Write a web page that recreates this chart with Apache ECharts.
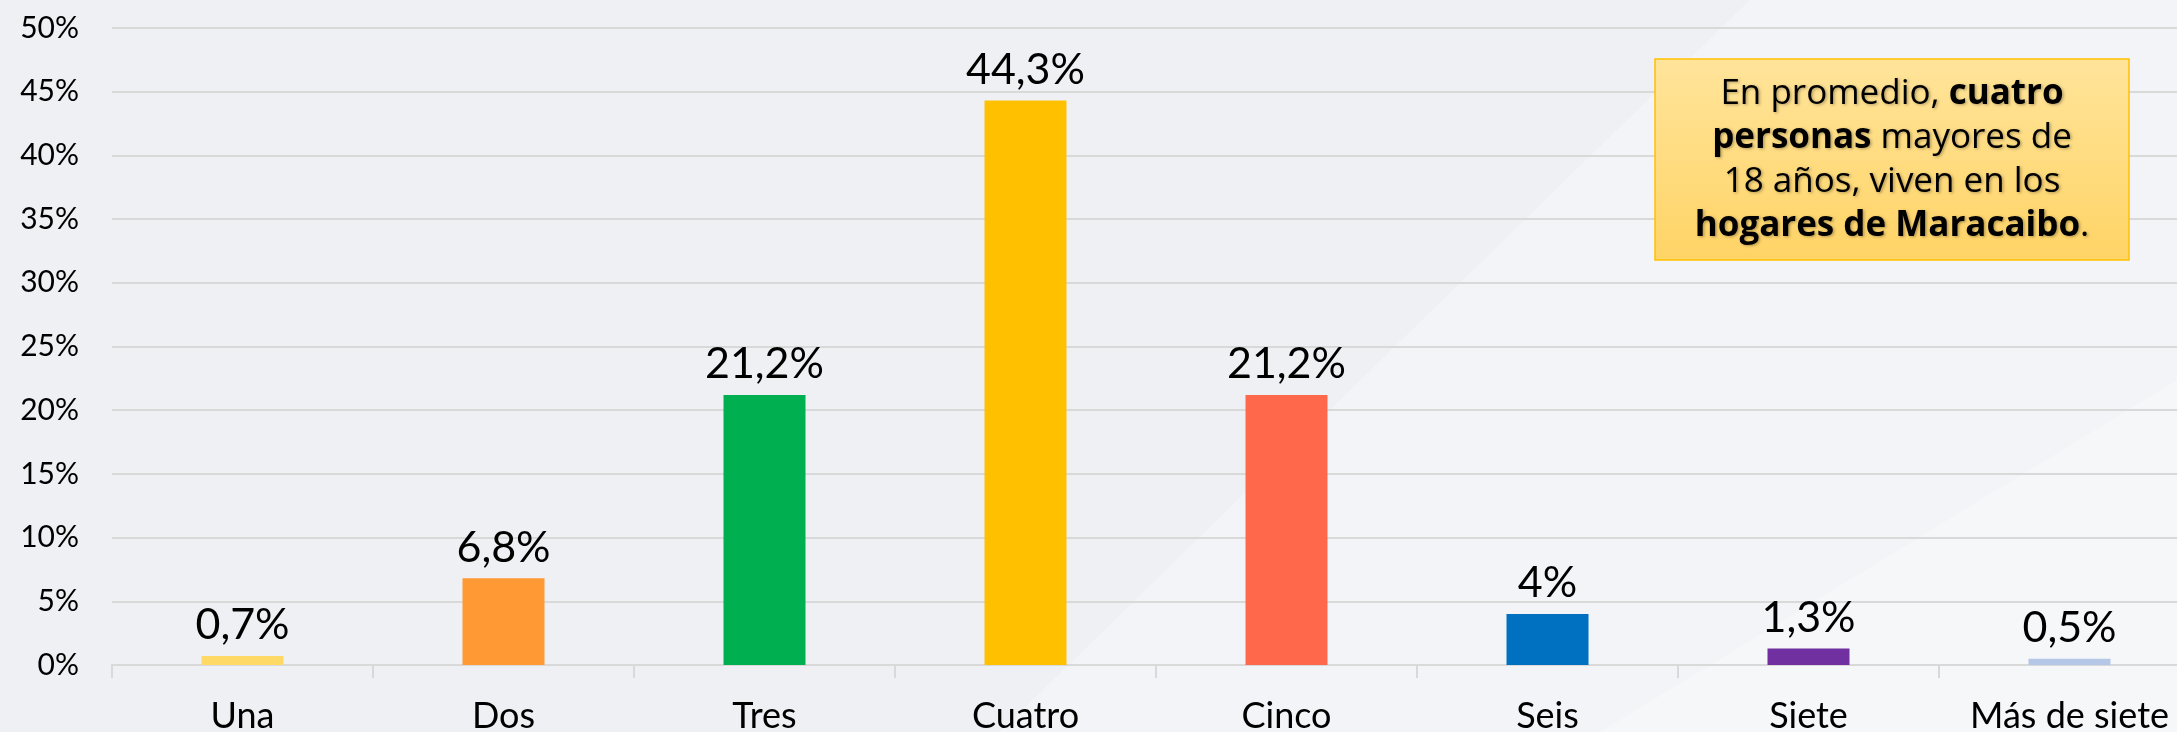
<!DOCTYPE html>
<html>
<head>
<meta charset="utf-8">
<script src="https://cdn.jsdelivr.net/npm/echarts@6/dist/echarts.min.js"></script>
<style>
  html, body { margin: 0; padding: 0; background: #eff0f4; }
  #chart { width: 2177px; height: 732px; }
</style>
</head>
<body>
<div id="chart"></div>
<script>
// categorías y porcentajes
const categorias = ['Una', 'Dos', 'Tres', 'Cuatro', 'Cinco', 'Seis', 'Siete', 'Más de siete']
const valores = [0.7, 6.8, 21.2, 44.3, 21.2, 4, 1.3, 0.5]
const colores = ['#FFD966', '#FF9933', '#00B050', '#FFC000', '#FF684B', '#0070C0', '#7030A0', '#B4C7E7']
const ticksY = [0, 5, 10, 15, 20, 25, 30, 35, 40, 45, 50]

const fuente = 'Lato, "Open Sans", sans-serif'
const chart = echarts.init(document.getElementById('chart'))

chart.setOption({
  backgroundColor: '#eff0f4',
  animation: false,
  // la rejilla sigue un poco más allá del borde derecho
  grid: { left: 112, right: -23, top: 28, bottom: 67, outerBoundsMode: 'none', containLabel: false },
  xAxis: {
    type: 'category',
    data: categorias,
    axisLine: { lineStyle: { color: '#d9d9d9', width: 2 } },
    axisTick: { show: true, interval: 0, length: 13, lineStyle: { color: '#d9d9d9', width: 2 } },
    axisLabel: { interval: 0, color: '#000', fontSize: 36, fontFamily: fuente, margin: 33 },
  },
  yAxis: {
    type: 'value',
    min: ticksY[0],
    max: ticksY[ticksY.length - 1],
    interval: 5,
    axisLine: { show: false },
    axisTick: { show: false },
    splitLine: { lineStyle: { color: '#d9d9d9', width: 2 } },
    axisLabel: { color: '#000', fontSize: 30, fontFamily: fuente, margin: 33, formatter: '{value}%' },
  },
  series: [
    {
      type: 'bar',
      barWidth: 82,
      data: valores.map((v, i) => ({ value: v, itemStyle: { color: colores[i] } })),
      label: {
        show: true,
        position: 'top',
        distance: 9,
        color: '#000',
        fontSize: 43,
        fontFamily: fuente,
        formatter: p => String(p.value).replace('.', ',') + '%',
      },
    },
  ],
  graphic: [
    // franjas claras del fondo
    {
      type: 'polygon', silent: true, z: -10,
      shape: { points: [[1000, 732], [1750, 0], [2177, 0], [2177, 732]] },
      style: { fill: 'rgba(255,255,255,0.28)' },
    },
    {
      type: 'polygon', silent: true, z: -10,
      shape: { points: [[1600, 732], [2177, 380], [2177, 732]] },
      style: { fill: 'rgba(255,255,255,0.25)' },
    },
    // recuadro de texto
    {
      type: 'rect', z: 50,
      shape: { x: 1655, y: 59, width: 474, height: 201 },
      style: {
        fill: new echarts.graphic.LinearGradient(0, 0, 0, 1, [
          { offset: 0, color: '#FFE49A' },
          { offset: 1, color: '#FFD466' },
        ]),
        stroke: '#FFC000',
        lineWidth: 1.5,
      },
    },
    {
      type: 'text', z: 51,
      x: 1892, y: 160,
      style: {
        text: 'En promedio, {b|cuatro}\n{b|personas} mayores de\n18 años, viven en los\n{b|hogares de Maracaibo}.',
        align: 'center',
        verticalAlign: 'middle',
        fontSize: 35,
        lineHeight: 44,
        fontFamily: '"Open Sans", sans-serif',
        fill: '#000',
        textShadowColor: 'rgba(0,0,0,0.3)',
        textShadowBlur: 3,
        textShadowOffsetX: 1.5,
        textShadowOffsetY: 1.5,
        rich: {
          b: { fontSize: 35, lineHeight: 44, fontWeight: 'bold', fontFamily: '"Open Sans", sans-serif', fill: '#000' },
        },
      },
    },
  ],
})
</script>
</body>
</html>
